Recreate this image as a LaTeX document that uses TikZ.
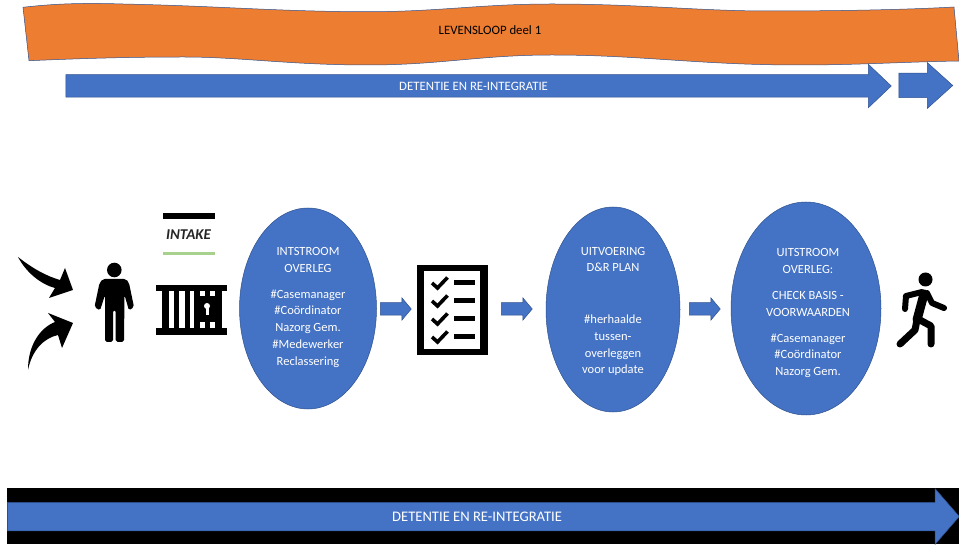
\documentclass[tikz,border=0pt]{standalone}
\usepackage{fontspec}
\setmainfont{Carlito}
\usetikzlibrary{shapes.geometric,shapes.arrows}
\definecolor{blu}{HTML}{4472C4}
\definecolor{bluedge}{HTML}{2F528F}
\definecolor{orng}{HTML}{ED7D31}
\definecolor{grn}{HTML}{A9D18E}
\tikzset{
  oval/.style={ellipse,draw=bluedge,line width=.5pt,fill=blu,inner sep=0pt},
  ovaltext/.style={text=white,font=\fontsize{12.5}{16.7}\selectfont,align=center,inner sep=0pt},
  blockarrow/.style={single arrow,draw=bluedge,line width=.5pt,fill=blu,inner sep=0pt,anchor=tail,
     text=white,font=\fontsize{12.8}{14}\selectfont,single arrow head indent=0pt},
  shaft/.style={text height=#1/2+5pt,text depth=#1/2-5pt},
  ink/.style={fill=black,draw=none},
  limb/.style={draw=black,line cap=round,line join=round},
}
\begin{document}
\begin{tikzpicture}[x=1pt,y=-1pt]
\useasboundingbox (0,0) rectangle (959,545);
\fill[white] (0,0) rectangle (959,545);

% banner
\draw[fill=orng,draw=bluedge,line width=.5pt]
  (23,7.3) .. controls (60,3) and (90,3) .. (123,4)
  .. controls (220,6) and (280,11.7) .. (368,11.7)
  .. controls (440,11.7) and (480,4) .. (552,4)
  .. controls (640,4) and (700,11) .. (767,11)
  .. controls (830,11) and (900,10) .. (954,7)
  -- (959,61)
  .. controls (900,62) and (860,65) .. (798,65)
  .. controls (700,65) and (640,55) .. (552,55)
  .. controls (480,55) and (440,65) .. (368,65)
  .. controls (290,65) and (240,57) .. (184,57)
  .. controls (120,57) and (70,59) .. (29,60.7)
  -- cycle;
\node[font=\fontsize{12.8}{14}\selectfont,inner sep=0pt] (banner) at (490,30) {LEVENSLOOP deel 1};

% top arrows
\node[blockarrow,shaft=22pt,minimum height=825.5pt,single arrow head extend=10.5pt,
      single arrow tip angle=87] (topa) at (65.5,86) {\hspace*{2pt}DETENTIE EN RE-INTEGRATIE};
\node[blockarrow,shaft=24pt,minimum height=54pt,single arrow head extend=10.5pt,
      single arrow tip angle=84] (topb) at (898.5,85.5) {};

% bottom band
\fill[black] (7,488) rectangle (959,544);
\node[blockarrow,shaft=28pt,minimum height=952pt,single arrow head extend=13.5pt,
      single arrow tip angle=98,font=\fontsize{14.6}{16}\selectfont] (bota) at (7,516.5) {DETENTIE EN RE-INTEGRATIE};

% curved arrows
\fill[ink] (18,257) .. controls (32,268) and (46,276) .. (60,280) -- (65,268) -- (73,290) -- (49,298) -- (55,288)
   .. controls (40,284) and (26,272) .. (18,257) -- cycle;
\fill[ink] (28,370) .. controls (28,345) and (40,328) .. (55,322) -- (48,313) -- (73,323) -- (62,348) -- (58,335)
   .. controls (44,338) and (32,350) .. (28,370) -- cycle;

% person
\fill[ink] (114.3,270) circle (7.3);
\fill[ink,rounded corners=1.8pt] (103,279) -- (126,279) -- (129,283) -- (134,307) -- (129,310.5) -- (124.5,295)
  -- (124,342) -- (115.7,342) -- (115.7,310) -- (113,310) -- (113,342) -- (105,342) -- (105,295)
  -- (100,310.5) -- (94.5,307) -- (99.5,283) -- cycle;

% intake
\fill[black] (163,213) rectangle (215,219);
\fill[grn] (163,252) rectangle (215,255);
\node[inner sep=0pt,font=\fontsize{15}{16}\selectfont\bfseries\itshape,text=black!85] (intake) at (188.5,235) {INTAKE};

% jail
\fill[ink] (156,285) rectangle (227,291);
\fill[ink] (156,328) rectangle (227,335);
\foreach \xa/\xb in {162/168.5,173.5/179,184.5/190,194/199.5,215/221.5}{\fill[ink] (\xa,291) rectangle (\xb,328);}
\fill[ink] (199.5,296.5) rectangle (215,322.5);
\fill[ink] (204.5,291) rectangle (209.5,328);
\fill[white] (207,306) circle (3);
\fill[white] (205.5,307) rectangle (208.5,315.5);

% block arrows between
\node[blockarrow,shaft=12pt,minimum height=31pt,single arrow head extend=5pt,
      single arrow tip angle=100] (s1) at (380,309) {};
\node[blockarrow,shaft=12pt,minimum height=31pt,single arrow head extend=5pt,
      single arrow tip angle=100] (s2) at (501,309) {};
\node[blockarrow,shaft=12pt,minimum height=31pt,single arrow head extend=5pt,
      single arrow tip angle=100] (s3) at (689,309) {};

% checklist
\fill[ink] (417,265) rectangle (488,355);
\fill[white] (424,271) rectangle (480,349);
\foreach \yy in {283,301,319,337}{
  \draw[limb,line width=3.6pt,line cap=butt,line join=miter] (432,\yy) -- (437.5,\yy+5) -- (447.5,\yy-5.5);
  \fill[ink] (454,\yy-2.5) rectangle (475,\yy+2.5);
}

% ovals
\node[oval,minimum width=137pt,minimum height=201pt] (ov1) at (308,308.5) {};
\node[ovaltext,yshift=1pt] (t1) at (ov1) {INTSTROOM\\OVERLEG\\[9pt]\#Casemanager\\\#Coördinator\\Nazorg Gem.\\\#Medewerker\\Reclassering};
\node[oval,minimum width=134pt,minimum height=205pt] (ov2) at (613,309.5) {};
\node[ovaltext,yshift=-2pt] (t2) at (ov2) {UITVOERING\\D\&R PLAN\\[35pt]\#herhaalde\\tussen-\\overleggen\\voor update};
\node[oval,minimum width=150pt,minimum height=213pt] (ov3) at (806,308.5) {};
\node[ovaltext,xshift=2pt,yshift=-4.5pt] (t3) at (ov3) {UITSTROOM\\OVERLEG:\\[10pt]CHECK BASIS -\\VOORWAARDEN\\[9pt]\#Casemanager\\\#Coördinator\\Nazorg Gem.};

% runner
\fill[ink] (925.5,279.5) circle (7);
\draw[limb,line width=9pt] (924,294) -- (917,320);
\draw[limb,line width=6pt] (922,292) -- (906,296) -- (905,309);
\draw[limb,line width=6pt] (927,293) -- (932,303) -- (944,308);
\draw[limb,line width=7pt] (917,320) -- (915,330) -- (900,344);
\draw[limb,line width=7pt] (918,319) -- (931,326) -- (931,344);
\end{tikzpicture}
\end{document}
